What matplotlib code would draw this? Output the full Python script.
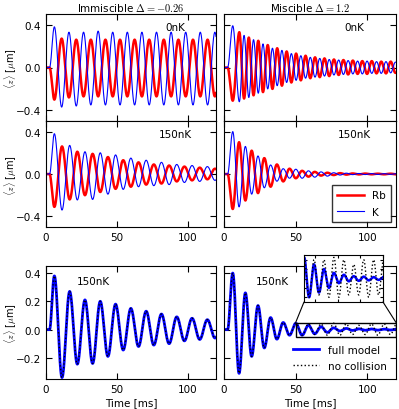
import numpy as np
import matplotlib
matplotlib.use('Agg')
import matplotlib.pyplot as plt
from matplotlib.patches import ConnectionPatch, Rectangle

plt.rcParams['font.family'] = ['DejaVu Sans']
plt.rcParams['mathtext.fontset'] = 'cm'
plt.rcParams['font.size'] = 7.5
plt.rcParams['xtick.direction'] = 'in'
plt.rcParams['ytick.direction'] = 'in'
plt.rcParams['xtick.top'] = True
plt.rcParams['ytick.right'] = True
plt.rcParams['xtick.major.size'] = 4
plt.rcParams['ytick.major.size'] = 4

# 극값(피크/골) 값 - 그림에서 읽은 것
# 왼쪽 열: Immiscible, 오른쪽 열: Miscible
# timing = (상승 시작, 첫 극값 시간, 두번째 극값 시간, 이후 반주기)
imm0_timing = (2.5, 5.9, 11.05, 5.15)
imm0_K = [0.38, -0.37, 0.33, -0.36, 0.33, -0.35, 0.34, -0.35, 0.33, -0.35, 0.33, -0.35,
          0.33, -0.35, 0.33, -0.35, 0.33, -0.35, 0.33, -0.35, 0.33, -0.35, 0.33, -0.35]
imm0_Rb = [-0.30, 0.27, -0.28, 0.26, -0.27, 0.26, -0.27, 0.26, -0.27, 0.26, -0.27, 0.26,
           -0.27, 0.26, -0.27, 0.26, -0.27, 0.26, -0.27, 0.26, -0.27, 0.26, -0.27, 0.26]

imm150_timing = (2.5, 5.9, 11.3, 5.4)
imm150_K = [0.38, -0.34, 0.27, -0.245, 0.21, -0.24, 0.20, -0.19, 0.18, -0.145, 0.15, -0.12,
            0.13, -0.11, 0.11, -0.10, 0.09, -0.08, 0.08, -0.07, 0.07, -0.06, 0.06]
imm150_Rb = [-0.31, 0.26, -0.24, 0.21, -0.20, 0.19, -0.17, 0.16, -0.14, 0.13, -0.12, 0.11,
             -0.10, 0.09, -0.09, 0.08, -0.07, 0.07, -0.06, 0.06, -0.05, 0.05, -0.05]

mis0_timing = (2.5, 6.1, 10.7, 3.3)
mis0_K = [0.39, -0.32, 0.30, -0.28, 0.26, -0.24, 0.22, -0.20, 0.18, -0.17, 0.16, -0.14,
          0.13, -0.12, 0.11, -0.10, 0.095, -0.09, 0.085, -0.08, 0.075, -0.07, 0.07, -0.065,
          0.065, -0.06, 0.06, -0.06, 0.06, -0.055, 0.055, -0.055, 0.055, -0.05, 0.05]
mis0_Rb = [-0.31, 0.33, -0.29, 0.28, -0.26, 0.25, -0.23, 0.21, -0.20, 0.18, -0.17, 0.15,
           -0.14, 0.13, -0.12, 0.11, -0.10, 0.095, -0.09, 0.085, -0.08, 0.075, -0.07, 0.07,
           -0.065, 0.065, -0.06, 0.06, -0.06, 0.06, -0.055, 0.055, -0.055, 0.055, -0.05]

mis150_timing = (2.5, 6.1, 10.5, 4.4)
mis150_K = [0.40, -0.31, 0.26, -0.19, 0.17, -0.13, 0.085, -0.068, 0.05, -0.04, 0.045,
            -0.04, 0.03, -0.03, 0.02, -0.02, 0.012, -0.01, 0.008, -0.006, 0.005, -0.005,
            0.004, -0.004, 0.003, -0.003, 0.003]
mis150_Rb = [-0.33, 0.30, -0.25, 0.22, -0.18, 0.15, -0.12, 0.09, -0.07, 0.05, -0.04,
             0.03, -0.025, 0.02, -0.015, 0.012, -0.01, 0.008, -0.006, 0.005, -0.004,
             0.004, -0.003, 0.003, -0.003, 0.003, -0.003]
# 충돌 없는 경우 (점선)
mis150_nocoll = [0.40, -0.31, 0.26, -0.19, 0.17, -0.13, 0.085, -0.068, 0.05, -0.04, 0.045,
                 -0.04, 0.04, -0.035, 0.04, -0.04, 0.045, -0.04, 0.04, -0.035, 0.03,
                 -0.035, 0.04, -0.04, 0.04, -0.035, 0.04]

titles = [r'Immiscible $\Delta=-0.26$', r'Miscible $\Delta=1.2$']


def wave(t, timing, vals):
    t0, t1, t2, half = timing
    vals = np.asarray(vals)
    tk = np.concatenate([[0.0, t0, t1], t2 + half * np.arange(len(vals) - 1)])
    vk = np.concatenate([[0.0, 0.0], vals])
    idx = np.clip(np.searchsorted(tk, t, side='right') - 1, 0, len(tk) - 2)
    s = np.clip((t - tk[idx]) / (tk[idx + 1] - tk[idx]), 0, 1)
    return vk[idx] + (vk[idx + 1] - vk[idx]) * (1 - np.cos(np.pi * s)) / 2


t = np.linspace(0, 120, 3000)

fig = plt.figure(figsize=(3.99, 4.10), dpi=100)
fig.patch.set_facecolor('white')

W, H = 399., 410.
colx = [(46, 216), (224, 396)]
rows = [(15, 122), (122, 228), (267, 380)]


def make_ax(c, r):
    x0, x1 = colx[c]
    y0, y1 = rows[r]
    return fig.add_axes([x0 / W, 1 - y1 / H, (x1 - x0) / W, (y1 - y0) / H])


ylab = r'$\langle z \rangle$ [$\mu$m]'
panels = [
    (0, 0, imm0_timing, imm0_Rb, imm0_K, '0nK'),
    (1, 0, mis0_timing, mis0_Rb, mis0_K, '0nK'),
    (0, 1, imm150_timing, imm150_Rb, imm150_K, '150nK'),
    (1, 1, mis150_timing, mis150_Rb, mis150_K, '150nK'),
]
for c, r, timing, rb, k, lab in panels:
    ax = make_ax(c, r)
    ax.plot(t, wave(t, timing, rb), color='r', lw=1.8, label='Rb')
    ax.plot(t, wave(t, timing, k), color='b', lw=0.8, label='K')
    ax.set_xlim(0, 120)
    ax.set_ylim(-0.5, 0.5)
    ax.set_xticks([0, 50, 100])
    ax.set_yticks([-0.4, 0.0, 0.4])
    ax.text(0.76, 0.88, lab, transform=ax.transAxes, ha='center', va='center', fontsize=7.5)
    if r == 0:
        ax.set_xticklabels([])
        ax.set_title(titles[c], fontsize=7.5, pad=2)
    if c == 1:
        ax.set_yticklabels([])
    else:
        ax.set_ylabel(ylab, fontsize=7)
        ax.yaxis.set_label_coords(-0.16, 0.5)
    if c == 1 and r == 1:
        ax.legend(loc='lower right', fontsize=7.5, frameon=True, fancybox=False,
                  edgecolor='k', handlelength=2.5, borderpad=0.5, labelspacing=0.6)

# 아래 줄: K 만, 충돌 유무 비교
for c in range(2):
    ax = make_ax(c, 2)
    if c == 0:
        ax.plot(t, wave(t, imm150_timing, imm150_K), color='b', lw=2.0, label='full model')
        ax.plot(t, wave(t, imm150_timing, imm150_K), color='k', lw=1.0, ls=':', label='no collision')
    else:
        ax.plot(t, wave(t, mis150_timing, mis150_K), color='b', lw=2.0, label='full model')
        ax.plot(t, wave(t, mis150_timing, mis150_nocoll), color='k', lw=1.0, ls=':', label='no collision')
    ax.set_xlim(0, 120)
    ax.set_ylim(-0.35, 0.45)
    ax.set_xticks([0, 50, 100])
    ax.set_yticks([-0.2, 0.0, 0.2, 0.4])
    ax.set_xlabel('Time [ms]', labelpad=2)
    ax.text(0.28, 0.87, '150nK', transform=ax.transAxes, ha='center', va='center', fontsize=7.5)
    if c == 0:
        ax.set_ylabel(ylab, fontsize=7)
        ax.yaxis.set_label_coords(-0.16, 0.5)
    else:
        ax.set_yticklabels([])
        ax.legend(loc='lower right', fontsize=7.5, frameon=False, handlelength=2.5,
                  bbox_to_anchor=(1.0, -0.01), labelspacing=0.6)
        axr = ax

# 인셋
x0, x1, y0, y1 = 304, 383, 256, 303
axins = fig.add_axes([x0 / W, 1 - y1 / H, (x1 - x0) / W, (y1 - y0) / H])
axins.plot(t, wave(t, mis150_timing, mis150_K), color='b', lw=1.8)
axins.plot(t, wave(t, mis150_timing, mis150_nocoll), color='k', lw=1.0, ls=':')
axins.set_xlim(50, 120)
axins.set_ylim(-0.05, 0.05)
axins.set_xticks([60, 80, 100, 120])
axins.set_yticks([-0.04, -0.02, 0.0, 0.02, 0.04])
axins.set_xticklabels([])
axins.set_yticklabels([])
axins.tick_params(length=2)

axr.add_patch(Rectangle((50, -0.05), 70, 0.1, fill=False, ec='k', lw=1.0, zorder=5))
for xa, xd in [(0, 50), (1, 120)]:
    con = ConnectionPatch(xyA=(xa, 0), coordsA=axins.transAxes,
                          xyB=(xd, 0.05), coordsB=axr.transData, color='k', lw=0.8)
    fig.add_artist(con)

fig.savefig('out.png', dpi=100, facecolor='white')
